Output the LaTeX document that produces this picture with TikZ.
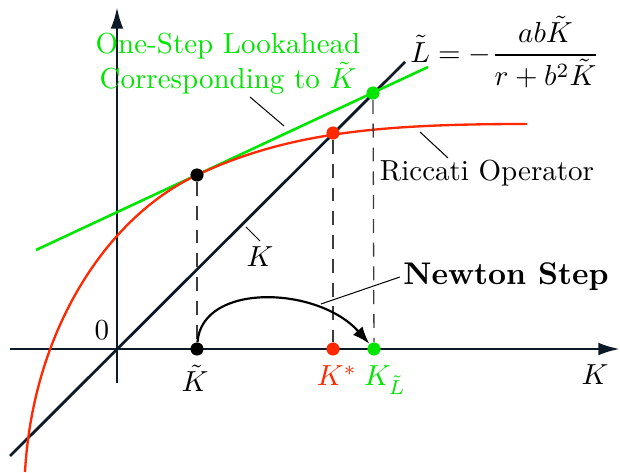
\documentclass[tikz,border=0pt]{standalone}
\usetikzlibrary{arrows.meta}
\definecolor{axisc}{RGB}{12,26,40}
\definecolor{rcol}{RGB}{255,40,0}
\definecolor{gcol}{RGB}{0,230,0}
\definecolor{dashc}{RGB}{60,60,60}
\begin{document}
\begin{tikzpicture}[x=0.3448pt,y=-0.3448pt,
  axisline/.style={draw=axisc,line width=0.95pt},
  axisarrow/.style={axisline,-{Latex[length=7.5pt,width=4.4pt]}},
  rcurve/.style={draw=rcol,line width=0.8pt},
  gline/.style={draw=gcol,line width=0.9pt},
  dashline/.style={draw=dashc,line width=0.45pt,dash pattern=on 4.8pt off 3.4pt},
  leader/.style={draw=black,line width=0.35pt},
  dot/.style={circle,inner sep=0pt,minimum size=4.4pt},
  lbl/.style={inner sep=1pt}]
\useasboundingbox (0,0) rectangle (620,473);
% axes
\coordinate (xl) at (10,349);
\coordinate (xr) at (620,349);
\coordinate (yb) at (117,383);
\coordinate (yt) at (117,7);
\draw[axisarrow] (xl) -- (xr);
\draw[axisarrow] (yb) -- (yt);
% 45 degree line
\coordinate (Lb) at (10,456);
\coordinate (Lt) at (405,62);
\draw[axisline] (Lb) -- (Lt);
% one-step lookahead line
\coordinate (Gl) at (36,250);
\coordinate (Gr) at (428,67);
\draw[gline] (Gl) -- (Gr);
% dots
\node[dot,fill=black] (A) at (197,175) {};
\node[dot,fill=rcol] (B) at (333,133) {};
\node[dot,fill=gcol] (C) at (373,93) {};
\node[dot,fill=black] (Kt) at (197,349) {};
\node[dot,fill=rcol] (Ks) at (333,349) {};
\node[dot,fill=gcol] (KL) at (374,349) {};
% Riccati curve
\coordinate (R0) at (25,472);
\coordinate (R1) at (527,124);
\draw[rcurve] (R0) .. controls (33,330) and (107,217) .. (A.center)
  .. controls (287,133) and (377,124) .. (R1);
% dashed verticals
\draw[dashline] (A) -- (Kt);
\draw[dashline] (B) -- (Ks);
\draw[dashline] (C) -- (KL);
% redraw dots on top
\fill[black] (A) circle[radius=6.4];
\fill[rcol] (B) circle[radius=6.4];
\fill[gcol] (C) circle[radius=6.4];
\fill[black] (Kt) circle[radius=6.4];
\fill[rcol] (Ks) circle[radius=6.4];
\fill[gcol] (KL) circle[radius=6.4];
% Newton step arrow
\draw[line width=0.75pt,-{Latex[length=6pt,width=4.4pt]}] (Kt) .. controls (202,282) and (318,286) .. (KL);
% texts
\node[lbl,text=gcol,align=center] (osl) at (228,64) {One-Step Lookahead\\Corresponding to $\tilde K$};
\node[lbl] (eq) at (505,52) {$\displaystyle \tilde L = -\frac{ab\tilde K}{r+b^2\tilde K}$};
\node[lbl] (ric) at (487,173) {Riccati Operator};
\node[lbl] (nwt) at (506,277) {\fontsize{10.8}{13}\selectfont\textbf{Newton Step}};
\node[lbl] (zero) at (102,330) {$0$};
\node[lbl] (lKt) at (195,378) {$\tilde K$};
\node[lbl,text=rcol] (lKs) at (337,376) {$K^*$};
\node[lbl,text=gcol] (lKL) at (385,380) {$K_{\tilde L}$};
\node[lbl] (lK) at (595,375) {$K$};
\node[lbl] (l45) at (260,257) {$K$};
% leaders
\coordinate (o1) at (250,97);
\coordinate (o2) at (284,126);
\draw[leader] (o1) -- (o2);
\coordinate (r1) at (420,132);
\coordinate (r2) at (448,158);
\draw[leader] (r1) -- (r2);
\coordinate (k1) at (246,227);
\coordinate (k2) at (260,241);
\draw[leader] (k1) -- (k2);
\coordinate (n1) at (321,304);
\draw[leader] (n1) -- (nwt.west);
\end{tikzpicture}
\end{document}
